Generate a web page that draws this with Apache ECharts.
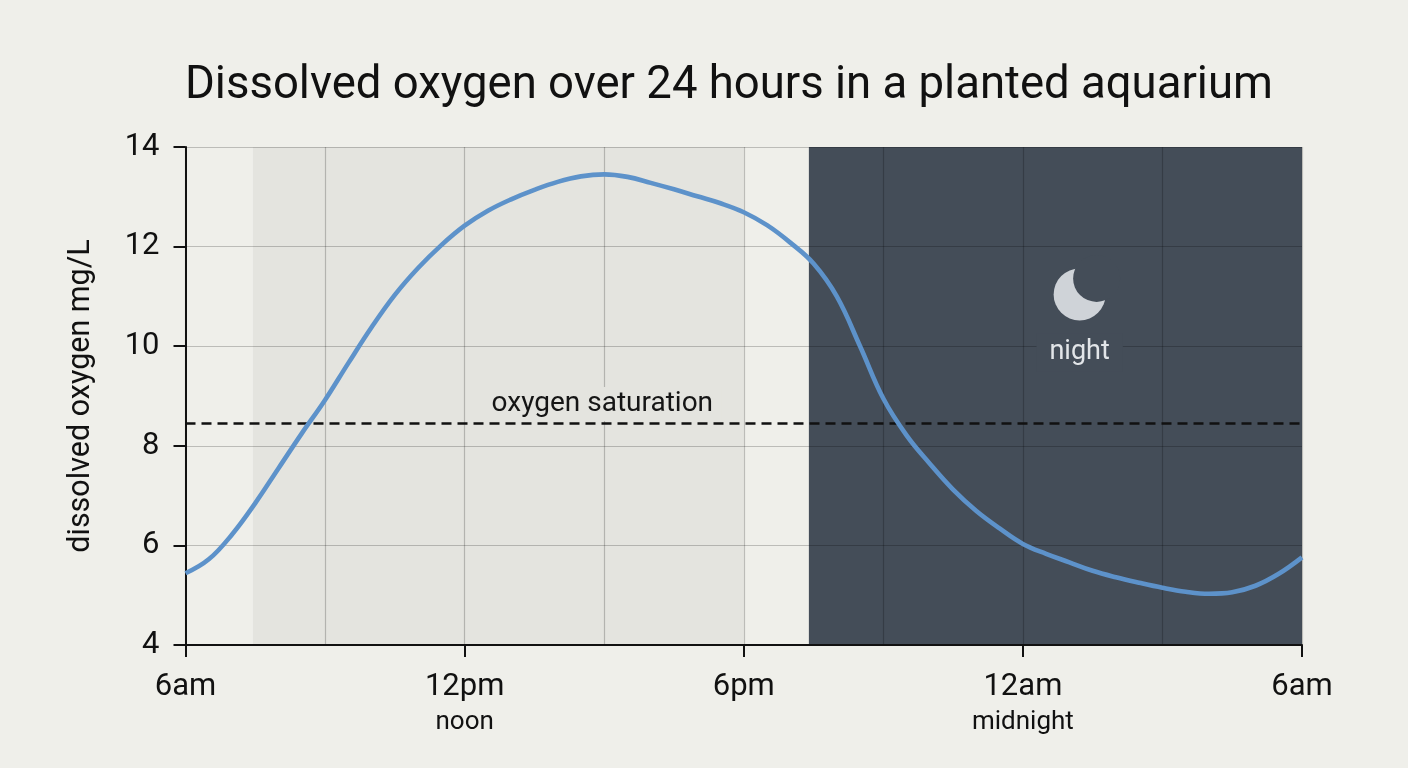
<!DOCTYPE html>
<html>
<head>
<meta charset="utf-8">
<script src="https://cdn.jsdelivr.net/npm/echarts@6/dist/echarts.min.js"></script>
<style>
  html, body { margin: 0; padding: 0; background: #efefea; }
  #chart { width: 1408px; height: 768px; }
</style>
</head>
<body>
<div id="chart"></div>
<script>
// hours after 6am
const hours = [0, 0.5, 1, 1.5, 2, 2.5, 3, 3.5, 4, 4.5, 5, 5.5, 6, 6.5, 7, 7.5, 8, 8.5, 9, 9.5, 10, 10.5, 11, 11.5, 12,
  12.5, 13, 13.5, 14, 14.5, 15, 15.5, 16, 16.5, 17, 17.5, 18, 18.5, 19, 19.5, 20, 20.5, 21, 21.5, 22, 22.5, 23, 23.5, 24];
const dissolvedOxygen = [5.44, 5.72, 6.22, 6.85, 7.55, 8.25, 8.92, 9.66, 10.38, 11.03, 11.57, 12.03, 12.42, 12.72, 12.95, 13.14,
  13.3, 13.41, 13.45, 13.4, 13.28, 13.15, 13.01, 12.87, 12.69, 12.43, 12.08, 11.66, 11.0, 10.0, 8.95, 8.21, 7.64, 7.12,
  6.69, 6.34, 6.03, 5.83, 5.66, 5.49, 5.36, 5.25, 5.15, 5.07, 5.03, 5.06, 5.19, 5.43, 5.76];

const tickHours = [0, 6, 12, 18, 24];
const tickLabels = ['6am', '12pm', '6pm', '12am', '6am'];
const tickSubLabels = ['', 'noon', '', 'midnight', ''];

const saturationLevel = 8.45;
const lightsOnSpan = [1.45, 12];
const nightSpan = [13.4, 24];

const saturationLabel = { name: 'oxygen saturation', value: [8.96, 8.84] };
const nightLabel = { name: 'night', value: [19.22, 9.88] };
const moonPosition = [19.22, 11.04];

const BG = '#efefea';
const LIGHT = '#e4e4df';
const DARK = '#444d58';
const FONT = 'Roboto, "Noto Sans", sans-serif';
const GRID_LINE = { color: 'rgba(0,0,0,0.21)', width: 1.2 };

const chart = echarts.init(document.getElementById('chart'), null, { renderer: 'canvas' });

chart.setOption({
  backgroundColor: BG,
  animation: false,
  textStyle: { fontFamily: FONT },
  title: {
    text: 'Dissolved oxygen over 24 hours in a planted aquarium',
    left: 180,
    top: 59,
    textStyle: { fontFamily: FONT, fontSize: 45.5, fontWeight: 'normal', color: '#111' }
  },
  grid: { left: 185.5, right: 106, top: 147, bottom: 123, containLabel: false },
  xAxis: {
    type: 'value',
    min: 0,
    max: 24,
    interval: 6,
    z: 3,
    axisLine: { show: true, onZero: false, lineStyle: { color: '#111', width: 2 } },
    axisTick: { show: true, length: 12, lineStyle: { color: '#111', width: 2 } },
    minorTick: { show: false, splitNumber: 2 },
    splitLine: { show: true, lineStyle: GRID_LINE },
    minorSplitLine: { show: true, lineStyle: GRID_LINE },
    axisLabel: {
      margin: 25,
      showMinLabel: true,
      showMaxLabel: true,
      formatter: function (v) {
        const i = tickHours.indexOf(v);
        if (i < 0) return '';
        return tickSubLabels[i] ? '{m|' + tickLabels[i] + '}\n{s|' + tickSubLabels[i] + '}' : '{m|' + tickLabels[i] + '}';
      },
      rich: {
        m: { fontFamily: FONT, fontSize: 31, lineHeight: 34, color: '#111' },
        s: { fontFamily: FONT, fontSize: 26, lineHeight: 36, color: '#111' }
      }
    }
  },
  yAxis: {
    type: 'value',
    min: 4,
    max: 14,
    interval: 2,
    z: 3,
    name: 'dissolved oxygen mg/L',
    nameLocation: 'middle',
    nameGap: 89,
    nameTextStyle: { fontFamily: FONT, fontSize: 30.5, color: '#111' },
    axisLine: { show: true, lineStyle: { color: '#111', width: 2 } },
    axisTick: { show: true, length: 12, lineStyle: { color: '#111', width: 2 } },
    splitLine: { show: true, lineStyle: GRID_LINE },
    axisLabel: { margin: 26, fontFamily: FONT, fontSize: 31, color: '#111' }
  },
  series: [
    {
      name: 'zones',
      type: 'line',
      z: 1,
      silent: true,
      data: [],
      markArea: {
        silent: true,
        data: [
          [{ xAxis: lightsOnSpan[0], itemStyle: { color: LIGHT } }, { xAxis: lightsOnSpan[1] }],
          [{ xAxis: nightSpan[0], itemStyle: { color: DARK } }, { xAxis: nightSpan[1] }]
        ]
      }
    },
    {
      name: 'moon',
      type: 'scatter',
      z: 4,
      silent: true,
      symbol: 'circle',
      symbolSize: 52,
      itemStyle: { color: '#cfd3d8', opacity: 1 },
      data: [moonPosition]
    },
    {
      name: 'moonShadow',
      type: 'scatter',
      z: 5,
      silent: true,
      symbol: 'circle',
      symbolSize: 47,
      symbolOffset: [17, -16],
      itemStyle: { color: DARK, opacity: 1 },
      data: [moonPosition]
    },
    {
      name: 'labels',
      type: 'scatter',
      z: 5,
      silent: true,
      symbolSize: 1,
      itemStyle: { color: 'rgba(0,0,0,0)', opacity: 1 },
      data: [
        {
          name: saturationLabel.name, value: saturationLabel.value,
          label: { show: true, position: 'inside', formatter: '{b}', fontFamily: FONT, fontSize: 28, lineHeight: 30,
            color: '#151515', backgroundColor: LIGHT, padding: [2, 8] }
        },
        {
          name: nightLabel.name, value: nightLabel.value,
          label: { show: true, position: 'inside', formatter: '{b}', fontFamily: FONT, fontSize: 27, lineHeight: 30,
            color: '#e2e5e8', backgroundColor: DARK, padding: [4, 13] }
        }
      ]
    },
    {
      name: 'dissolved oxygen',
      type: 'line',
      z: 6,
      smooth: 0.4,
      symbol: 'none',
      silent: true,
      lineStyle: { color: '#5d92ca', width: 4.6 },
      data: hours.map((h, i) => [h, dissolvedOxygen[i]]),
      markLine: {
        silent: true,
        symbol: 'none',
        label: { show: false },
        lineStyle: { color: '#111', width: 2.5, type: [10, 6] },
        data: [{ yAxis: saturationLevel }]
      }
    }
  ]
});
</script>
</body>
</html>
